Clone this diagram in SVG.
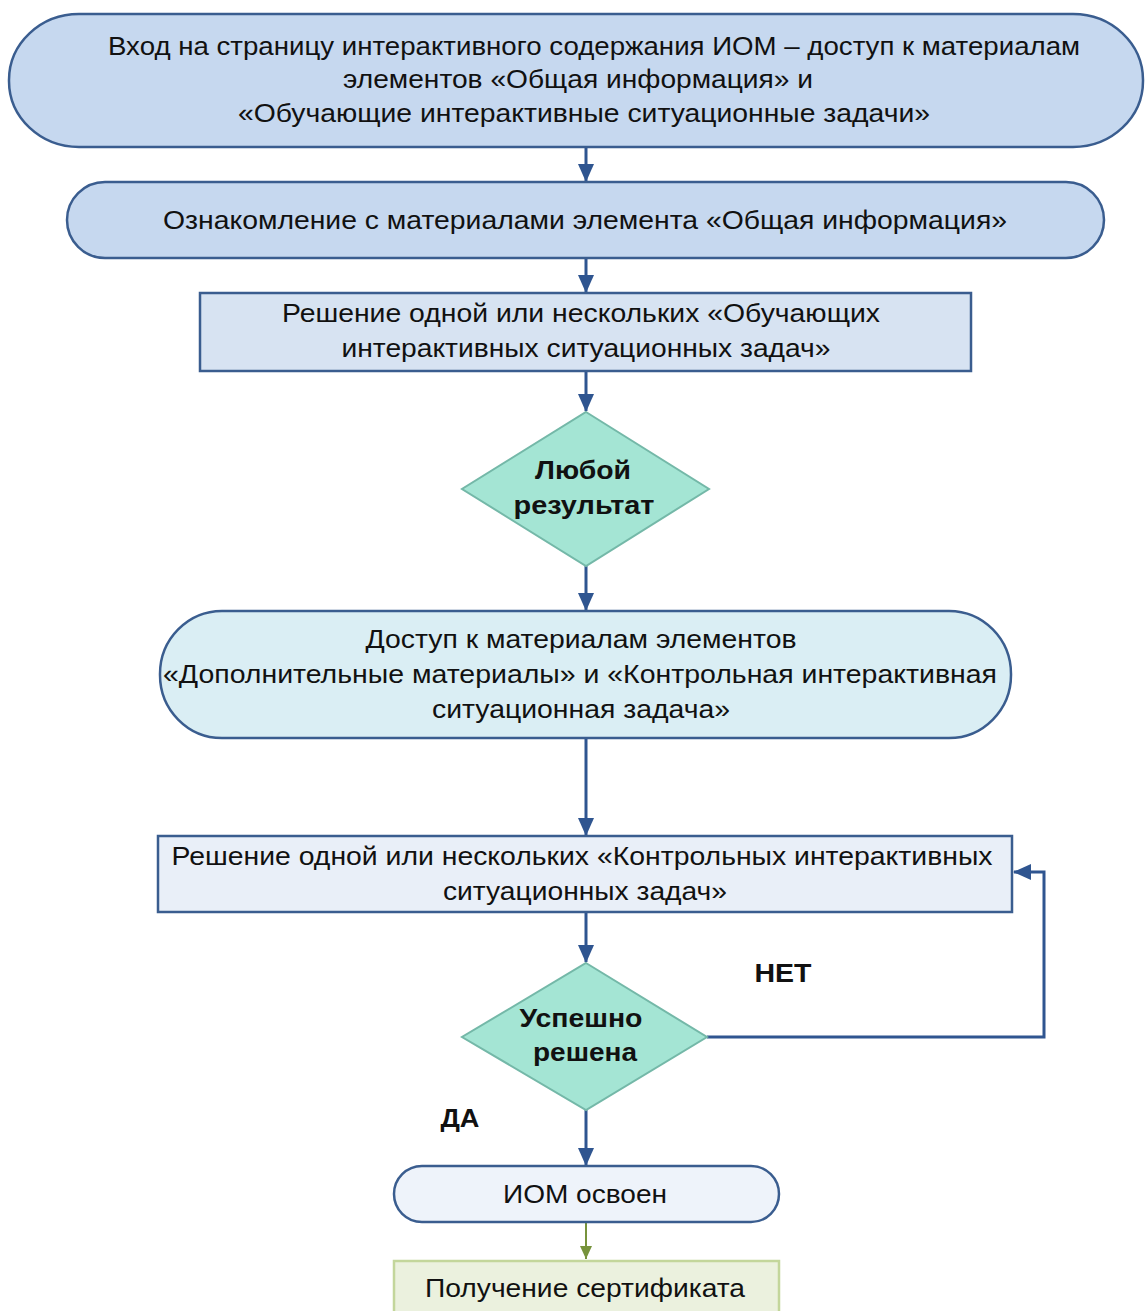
<svg xmlns="http://www.w3.org/2000/svg" width="1147" height="1311" viewBox="0 0 1147 1311">
<style>
text{font-family:"Liberation Sans",Arial,sans-serif;font-size:25px;fill:#111;text-anchor:middle}
.b{font-weight:bold}
.n{stroke:#3a5d8f;stroke-width:2.5}
.d{fill:#a4e5d4;stroke:#74b8a8;stroke-width:2}
.c{fill:none;stroke:#2f5590;stroke-width:3}
</style>
<defs>
<marker id="ah" markerWidth="18" markerHeight="16" refX="17" refY="8" orient="auto" markerUnits="userSpaceOnUse" viewBox="0 0 18 16"><path d="M0,0 L18,8 L0,16 Z" fill="#2f5590"/></marker>
<marker id="ag" markerWidth="14" markerHeight="14" refX="13" refY="7" orient="auto" markerUnits="userSpaceOnUse" viewBox="0 0 14 14"><path d="M0,1 L13,7 L0,13 Z" fill="#77933c"/></marker>
</defs>
<rect width="1147" height="1311" fill="#fff"/>
<g id="connectors">
<line class="c" x1="586" y1="147" x2="586" y2="181" marker-end="url(#ah)"/>
<line class="c" x1="586" y1="258" x2="586" y2="292" marker-end="url(#ah)"/>
<line class="c" x1="586" y1="371" x2="586" y2="411" marker-end="url(#ah)"/>
<line class="c" x1="586" y1="566" x2="586" y2="610" marker-end="url(#ah)"/>
<line class="c" x1="586" y1="738" x2="586" y2="835" marker-end="url(#ah)"/>
<line class="c" x1="586" y1="913" x2="586" y2="962" marker-end="url(#ah)"/>
<line class="c" x1="586" y1="1110" x2="586" y2="1165" marker-end="url(#ah)"/>
<polyline class="c" points="707,1037 1044,1037 1044,872 1014,872" marker-end="url(#ah)"/>
<line x1="586" y1="1222" x2="586" y2="1259" stroke="#77933c" stroke-width="2" marker-end="url(#ag)"/>
<text class="b" x="783" y="982" textLength="57" lengthAdjust="spacingAndGlyphs">НЕТ</text>
<text class="b" x="460" y="1127" textLength="39" lengthAdjust="spacingAndGlyphs">ДА</text>
</g>
<g id="n1">
<rect class="n" x="9" y="14" width="1134" height="133" rx="70" ry="66" fill="#c6d8ef"/>
<text x="594" y="55" textLength="972" lengthAdjust="spacingAndGlyphs">Вход на страницу интерактивного содержания ИОМ – доступ к материалам</text>
<text x="578" y="88" textLength="470" lengthAdjust="spacingAndGlyphs">элементов «Общая информация» и</text>
<text x="584" y="122" textLength="692" lengthAdjust="spacingAndGlyphs">«Обучающие интерактивные ситуационные задачи»</text>
</g>
<g id="n2">
<rect class="n" x="67" y="182" width="1037" height="76" rx="38" ry="38" fill="#c6d8ef"/>
<text x="585" y="229" textLength="844" lengthAdjust="spacingAndGlyphs">Ознакомление с материалами элемента «Общая информация»</text>
</g>
<g id="n3">
<rect class="n" x="200" y="293" width="771" height="78" fill="#d7e3f2"/>
<text x="581" y="322" textLength="598" lengthAdjust="spacingAndGlyphs">Решение одной или нескольких «Обучающих</text>
<text x="586" y="357" textLength="489" lengthAdjust="spacingAndGlyphs">интерактивных ситуационных задач»</text>
</g>
<g id="n4">
<polygon class="d" points="586,412 709,489 586,566 462,489"/>
<text class="b" x="583" y="479" textLength="96" lengthAdjust="spacingAndGlyphs">Любой</text>
<text class="b" x="584" y="514" textLength="141" lengthAdjust="spacingAndGlyphs">результат</text>
</g>
<g id="n5">
<rect class="n" x="160" y="611" width="851" height="127" rx="62" ry="63" fill="#daeef4"/>
<text x="581" y="648" textLength="431" lengthAdjust="spacingAndGlyphs">Доступ к материалам элементов</text>
<text x="580" y="683" textLength="834" lengthAdjust="spacingAndGlyphs">«Дополнительные материалы» и «Контрольная интерактивная</text>
<text x="581" y="718" textLength="298" lengthAdjust="spacingAndGlyphs">ситуационная задача»</text>
</g>
<g id="n6">
<rect class="n" x="158" y="836" width="854" height="76" fill="#e9eff8"/>
<text x="582" y="865" textLength="821" lengthAdjust="spacingAndGlyphs">Решение одной или нескольких «Контрольных интерактивных</text>
<text x="585" y="900" textLength="284" lengthAdjust="spacingAndGlyphs">ситуационных задач»</text>
</g>
<g id="n7">
<polygon class="d" points="586,963 707,1037 586,1110 462,1037"/>
<text class="b" x="581" y="1027" textLength="123" lengthAdjust="spacingAndGlyphs">Успешно</text>
<text class="b" x="585" y="1061" textLength="104" lengthAdjust="spacingAndGlyphs">решена</text>
</g>
<g id="n8">
<rect class="n" x="394" y="1166" width="385" height="56" rx="28" ry="28" fill="#eef3fa"/>
<text x="585" y="1203" font-size="27" textLength="164" lengthAdjust="spacingAndGlyphs">ИОМ освоен</text>
</g>
<g id="n9">
<rect x="394" y="1261" width="385" height="60" fill="#ebf1de" stroke="#c3d69b" stroke-width="2.5"/>
<text x="585" y="1297" font-size="27" textLength="320" lengthAdjust="spacingAndGlyphs">Получение сертификата</text>
</g>
</svg>
